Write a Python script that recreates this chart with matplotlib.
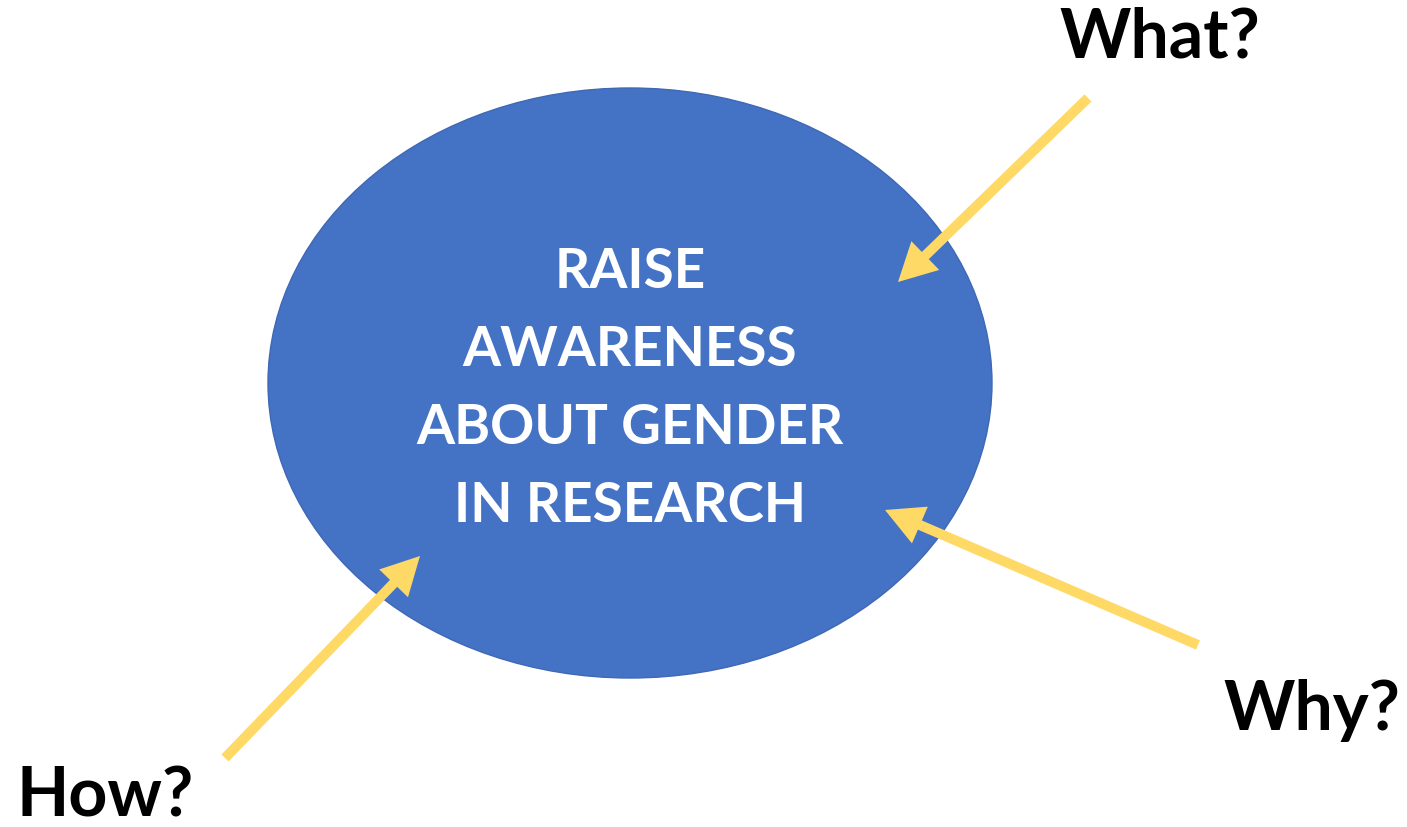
import matplotlib.pyplot as plt
from matplotlib.patches import Ellipse, FancyArrow

# Diagram content
center_text = ["RAISE", "AWARENESS", "ABOUT GENDER", "IN RESEARCH"]
questions = ["What?", "Why?", "How?"]
question_xy = [(1160, 38), (1312, 710), (105, 797)]
arrow_tails = [(1088, 98), (1198, 645), (225, 758)]
arrow_tips = [(898, 282), (885, 510), (420, 556)]

BLUE = '#4472C4'
YELLOW = '#FFD966'

W, H = 1407, 827
fig = plt.figure(figsize=(W / 100, H / 100), dpi=100)
ax = fig.add_axes([0, 0, 1, 1])
ax.set_xlim(0, W)
ax.set_ylim(H, 0)
ax.axis('off')

# Central ellipse
ax.add_patch(Ellipse((630, 383), 724, 590, facecolor=BLUE, edgecolor='#3F68B5', lw=1))

# Central text, one line at a time
for i, line in enumerate(center_text):
    ax.text(630, 272 + i * 78, line, color='white', fontsize=39.5, fontweight='bold',
            family='Lato', ha='center', va='center')

# Arrows pointing into the ellipse
for (x0, y0), (x1, y1) in zip(arrow_tails, arrow_tips):
    ax.add_patch(FancyArrow(x0, y0, x1 - x0, y1 - y0, width=10, head_width=40,
                            head_length=38, length_includes_head=True,
                            color=YELLOW, lw=0))

# Question labels
for label, (x, y) in zip(questions, question_xy):
    ax.text(x, y, label, color='black', fontsize=49, fontweight='bold',
            family='Lato', ha='center', va='center')

plt.savefig('out.png', dpi=100)
